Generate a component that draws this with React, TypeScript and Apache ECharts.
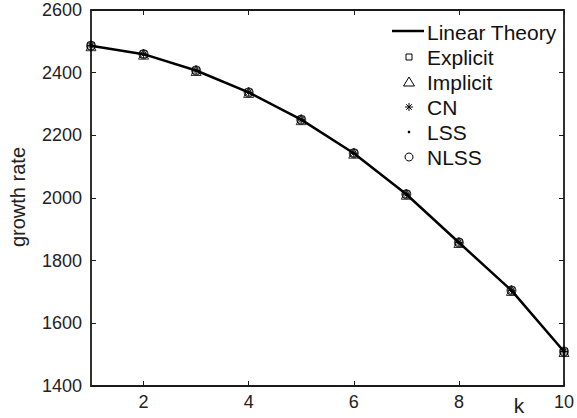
import React, { useEffect, useRef } from "react";
import * as echarts from "echarts";

const kValues = [1, 2, 3, 4, 5, 6, 7, 8, 9, 10];
const linearTheory = [2486, 2459, 2407, 2337, 2250, 2143, 2012, 1858, 1705, 1510];
const explicitVals = [2486, 2459, 2407, 2337, 2250, 2143, 2012, 1858, 1705, 1510];
const implicitVals = [2486, 2459, 2407, 2337, 2250, 2143, 2012, 1858, 1705, 1510];
const cnVals = [2486, 2459, 2407, 2337, 2250, 2143, 2012, 1858, 1705, 1510];
const lssVals = [2486, 2459, 2407, 2337, 2250, 2143, 2012, 1858, 1705, 1510];
const nlssVals = [2486, 2459, 2407, 2337, 2250, 2143, 2012, 1858, 1705, 1510];
const xTicks = [2, 4, 6, 8, 10];
const legendNames = ["Linear Theory", "Explicit", "Implicit", "CN", "LSS", "NLSS"];

const FONT = "Liberation Sans, Arial, Helvetica, sans-serif";
const ASTERISK_D = "M0,-4L0,4M-4,0L4,0M-2.8,-2.8L2.8,2.8M-2.8,2.8L2.8,-2.8";
const ASTERISK_SYM = "path://M5,0L5,10M0,5L10,5M1.5,1.5L8.5,8.5M1.5,8.5L8.5,1.5";

echarts.graphic.registerShape("asteriskMark", echarts.graphic.extendPath(ASTERISK_D, {}));

const pairs = (vals: number[]) => kValues.map((k, i) => [k, vals[i]]);

export default function App() {
  const ref = useRef<HTMLDivElement>(null);
  useEffect(() => {
    if (!ref.current) return;
    const chart = echarts.init(ref.current, undefined, { renderer: "svg" });
    const axisLine = { show: true, lineStyle: { color: "#1a1a1a", width: 1.8 } };
    const tick = { show: true, inside: true, length: 5, lineStyle: { color: "#1a1a1a", width: 1 } };
    const scatterBase = (name: string, vals: number[], symbol: string, size: number, filled = false) => ({
      name,
      type: "scatter",
      data: pairs(vals),
      symbol,
      symbolSize: size,
      itemStyle: {
        color: filled ? "#000" : "rgba(0,0,0,0)",
        borderColor: "#000",
        borderWidth: 1,
      },
      z: 3,
    });

    const lx = 409;
    const rowY = (i: number) => 32 + i * 25;
    const stroke = { stroke: "#000", lineWidth: 1, fill: "none" };
    const legendGraphics: any[] = [
      { type: "line", shape: { x1: 392, y1: rowY(0) - 1, x2: 424, y2: rowY(0) - 1 }, style: { stroke: "#000", lineWidth: 2.5 } },
      { type: "rect", shape: { x: lx - 3, y: rowY(1) - 3, width: 6, height: 6 }, style: stroke },
      {
        type: "polygon",
        shape: { points: [[lx, rowY(2) - 5], [lx + 5.5, rowY(2) + 4], [lx - 5.5, rowY(2) + 4]] },
        style: stroke,
      },
      { type: "asteriskMark", x: lx, y: rowY(3), style: stroke },
      { type: "circle", shape: { cx: lx, cy: rowY(4), r: 1.3 }, style: { fill: "#000" } },
      { type: "circle", shape: { cx: lx, cy: rowY(5), r: 4 }, style: stroke },
      ...legendNames.map((n, i) => ({
        type: "text",
        x: 427,
        y: rowY(i),
        style: { text: n, fontSize: 21, fill: "#111", fontFamily: FONT, verticalAlign: "middle" },
      })),
    ];

    chart.setOption({
      animation: false,
      backgroundColor: "#fff",
      textStyle: { fontFamily: FONT },
      grid: { left: 91, right: 10, top: 10, bottom: 32, containLabel: false },
      xAxis: [
        {
          type: "value",
          min: 1,
          max: 10,
          position: "bottom",
          axisLine,
          axisTick: { ...tick, customValues: xTicks },
          axisLabel: { customValues: xTicks, color: "#222", fontSize: 18, fontFamily: FONT, margin: 7 },
          splitLine: { show: false },
        },
        {
          type: "value",
          min: 1,
          max: 10,
          position: "top",
          axisLine,
          axisTick: { ...tick, customValues: xTicks },
          axisLabel: { show: false },
          splitLine: { show: false },
        },
      ],
      yAxis: [
        {
          type: "value",
          min: 1400,
          max: 2600,
          interval: 200,
          position: "left",
          axisLine,
          axisTick: tick,
          axisLabel: { color: "#222", fontSize: 18, fontFamily: FONT, margin: 9, formatter: (v: number) => String(v) },
          splitLine: { show: false },
        },
        {
          type: "value",
          min: 1400,
          max: 2600,
          interval: 200,
          position: "right",
          axisLine,
          axisTick: tick,
          axisLabel: { show: false },
          splitLine: { show: false },
        },
      ],
      legend: { show: false, data: legendNames },
      graphic: [
        ...legendGraphics,
        {
          type: "text",
          x: 519,
          y: 405,
          style: { text: "k", fontSize: 21, fill: "#222", fontFamily: FONT, align: "center", verticalAlign: "middle" },
        },
        {
          type: "text",
          x: 18,
          y: 197,
          rotation: Math.PI / 2,
          style: { text: "growth rate", fontSize: 20, fill: "#222", fontFamily: FONT, align: "center", verticalAlign: "middle" },
        },
      ],
      series: [
        {
          name: "Linear Theory",
          type: "line",
          data: pairs(linearTheory),
          symbol: "none",
          lineStyle: { color: "#000", width: 2.5 },
          itemStyle: { color: "#000" },
          z: 2,
        },
        scatterBase("Explicit", explicitVals, "rect", 7),
        scatterBase("Implicit", implicitVals, "triangle", 10),
        scatterBase("CN", cnVals, ASTERISK_SYM, 8),
        scatterBase("LSS", lssVals, "circle", 3, true),
        scatterBase("NLSS", nlssVals, "circle", 9),
      ],
    });
    return () => chart.dispose();
  }, []);
  return <div ref={ref} style={{ width: 577, height: 418, position: "absolute", left: 0, top: 0 }} />;
}
